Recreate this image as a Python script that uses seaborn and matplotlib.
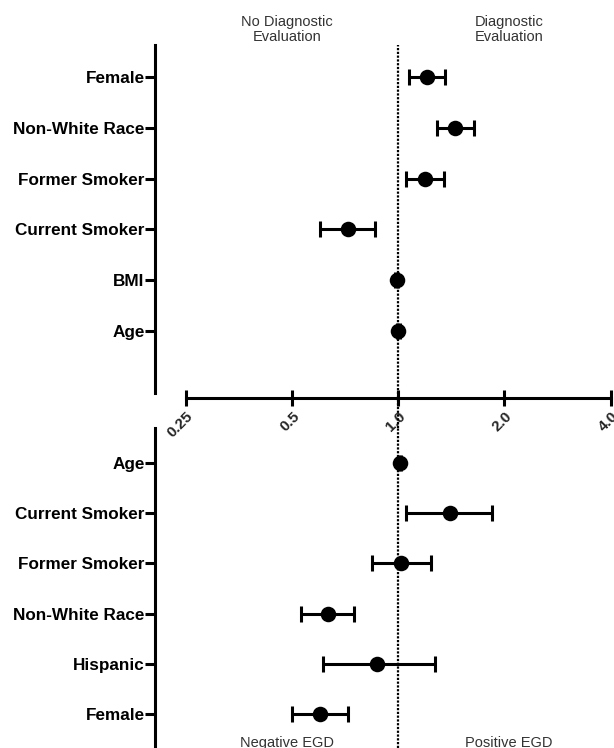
import numpy as np
import pandas as pd
import matplotlib
matplotlib.use("Agg")
import matplotlib.pyplot as plt
import seaborn as sns

# Odds ratios with 95% CI: diagnostic evaluation (top) and positive EGD (bottom)
eval_labels = ["Female", "Non-White Race", "Former Smoker", "Current Smoker", "BMI", "Age"]
eval_or = [1.21, 1.45, 1.19, 0.72, 0.99, 1.00]
eval_lo = [1.07, 1.29, 1.05, 0.60, 0.98, 0.99]
eval_hi = [1.36, 1.64, 1.35, 0.86, 1.00, 1.01]

egd_labels = ["Age", "Current Smoker", "Former Smoker", "Non-White Race", "Hispanic", "Female"]
egd_or = [1.01, 1.40, 1.02, 0.63, 0.87, 0.60]
egd_lo = [1.00, 1.05, 0.84, 0.53, 0.61, 0.50]
egd_hi = [1.02, 1.84, 1.24, 0.75, 1.27, 0.72]

tick_vals = [0.25, 0.5, 1.0, 2.0, 4.0]
tick_text = ["0.25", "0.5", "1.0", "2.0", "4.0"]

sns.set_theme(style="white")
plt.rcParams["font.family"] = ["Liberation Sans", "DejaVu Sans"]

W, H = 614, 748
fig = plt.figure(figsize=(W / 100, H / 100), dpi=100)


def fx(px):
    return px / W


def fy(px):
    return 1 - px / H


left = fx(155)
width = 1 - left
ax_top = fig.add_axes([left, fy(398), width, fy(45) - fy(398)])
ax_bot = fig.add_axes([left, 0, width, fy(428)])

XLIM = (2 ** -2.292, 2 ** 2.032)
LW = 2.2


def forest(ax, labels, orv, lo, hi, ylim):
    df = pd.DataFrame({"label": labels, "or": orv})
    ypos = np.arange(len(labels))
    ax.errorbar(orv, ypos,
                xerr=[np.array(orv) - np.array(lo), np.array(hi) - np.array(orv)],
                fmt="none", ecolor="black", elinewidth=2.2, capsize=6, capthick=2.2, zorder=2)
    sns.scatterplot(data=df, x="or", y=ypos, ax=ax, color="black", s=125,
                    edgecolor="black", linewidth=0, zorder=3, legend=False)
    ax.set_xscale("log", base=2)
    ax.set_xlim(*XLIM)
    ax.set_ylim(*ylim)
    ax.set_yticks(ypos)
    ax.set_yticklabels(labels, fontsize=12.3, fontweight="bold", color="black")
    ax.tick_params(axis="y", direction="out", length=7.5, width=LW, pad=0, color="black", left=True)
    ax.set_xlabel("")
    ax.set_ylabel("")
    for s in ["top", "right"]:
        ax.spines[s].set_visible(False)
    ax.spines["left"].set_linewidth(LW)
    ax.spines["left"].set_color("black")
    ax.patch.set_alpha(0)


forest(ax_top, eval_labels, eval_or, eval_lo, eval_hi, (6.32, -0.63))
forest(ax_bot, egd_labels, egd_or, egd_lo, egd_hi, (5.677, -0.697))

# shared odds-ratio axis drawn under the top panel
ax_top.spines["left"].set_bounds(6.22, -0.63)
ax_top.spines["bottom"].set_bounds(0.25, 4.0)
ax_top.spines["bottom"].set_linewidth(LW)
ax_top.spines["bottom"].set_color("black")
ax_top.set_xticks(tick_vals)
ax_top.set_xticklabels(tick_text, rotation=45, ha="right", va="top",
                       rotation_mode="anchor", fontsize=11, fontweight="bold")
ax_top.xaxis.set_minor_locator(matplotlib.ticker.NullLocator())
ax_top.tick_params(axis="x", direction="inout", length=12, width=LW, color="black",
                   bottom=True, pad=2)

ax_bot.spines["bottom"].set_visible(False)
ax_bot.set_xticks([])
ax_bot.xaxis.set_minor_locator(matplotlib.ticker.NullLocator())

# reference line at OR = 1
gap = 30 / 353
dots = (0, (1, 0.7))
ax_top.axvline(1.0, ymin=-gap, ymax=1, color="black", lw=1.6, ls=dots, clip_on=False, zorder=1)
ax_bot.axvline(1.0, ymin=0, ymax=1, color="black", lw=1.6, ls=dots, zorder=1)

txt = dict(ha="center", fontsize=10.5, color="#333333", linespacing=1.1)
fig.text(fx(287), fy(15), "No Diagnostic\nEvaluation", va="top", **txt)
fig.text(fx(509), fy(15), "Diagnostic\nEvaluation", va="top", **txt)
fig.text(fx(287), fy(736), "Negative EGD", va="top", **txt)
fig.text(fx(509), fy(736), "Positive EGD", va="top", **txt)

fig.savefig("out.png", dpi=100)
